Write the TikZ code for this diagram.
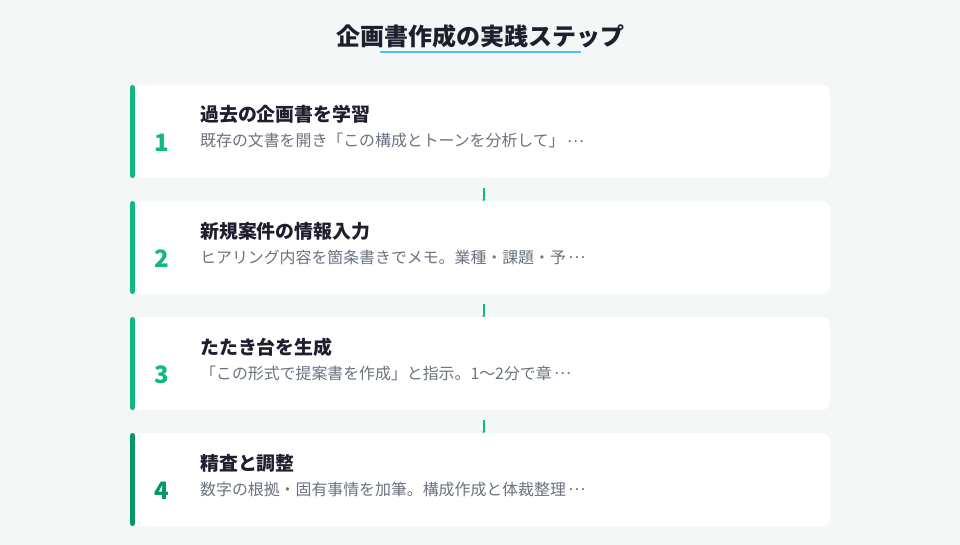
\documentclass[tikz,border=0pt]{standalone}
\usepackage{fontspec}
\setmainfont{Noto Sans CJK JP}
\usetikzlibrary{arrows.meta}
\definecolor{bgcol}{HTML}{F3F8F6}
\definecolor{stepgreen}{HTML}{10B981}
\definecolor{stepdark}{HTML}{059669}
\definecolor{inkcol}{HTML}{1E1E2E}
\definecolor{subcol}{HTML}{6B7280}
\definecolor{linecol}{HTML}{4FC3F0}
\newcommand{\cjkdots}{\hspace{.15em}\raisebox{.28em}{…}}
\tikzset{
	card/.style={fill=white,rounded corners=8pt,minimum width=700pt,minimum height=93pt,inner sep=0pt},
	stepnum/.style={anchor=base,font=\bfseries\fontsize{24}{24}\selectfont,inner sep=0pt},
	steptitle/.style={anchor=base west,font=\bfseries\fontsize{18.9}{18.9}\selectfont,text=inkcol,inner sep=0pt},
	stepdesc/.style={anchor=base west,font=\fontsize{15.9}{15.9}\selectfont,text=subcol,inner sep=0pt},
	conn/.style={draw=stepgreen,line width=2pt,-{Stealth[length=1.2pt,width=4pt]},shorten <=10pt}
}

\begin{document}
\begin{tikzpicture}[x=1pt,y=-1pt]
	\fill [bgcol] (0,0) rectangle (960,545);
	\useasboundingbox (0,0) rectangle (960,545);
	% heading
	\node (head) [anchor=base,font=\bfseries\fontsize{24}{24}\selectfont,text=inkcol,inner sep=0pt] at (480,46) {企画書作成の実践ステップ};
	\draw [linecol,line width=2.6pt] (380,52) -- (581,52);
	% steps
	\foreach \i/\y/\c/\t/\d in {
		1/85/stepgreen/過去の企画書を学習/既存の文書を開き「この構成とトーンを分析して」\cjkdots,
		2/201/stepgreen/新規案件の情報入力/ヒアリング内容を箇条書きでメモ。業種・課題・予\cjkdots,
		3/317/stepgreen/たたき台を生成/「この形式で提案書を作成」と指示。1〜2分で章\cjkdots,
		4/433/stepdark/精査と調整/数字の根拠・固有事情を加筆。構成作成と体裁整理\cjkdots}
	{
		\node (card\i) [card] at (480,\y+46.5) {};
		\draw [\c,line width=5pt,line cap=round] (132.5,\y+2.5) -- (132.5,\y+90.5);
		\node (num\i) [stepnum,text=\c] at (162,\y+66.5) {\i};
		\node (title\i) [steptitle] at (200,\y+37) {\t};
		\node (desc\i) [stepdesc] at (200,\y+62) {\d};
	}
	% connectors
	\foreach \i/\j in {1/2,2/3,3/4}
	\draw [conn] ([xshift=3.5pt]card\i.south) -- ([xshift=3.5pt]card\j.north);
\end{tikzpicture}
\end{document}
